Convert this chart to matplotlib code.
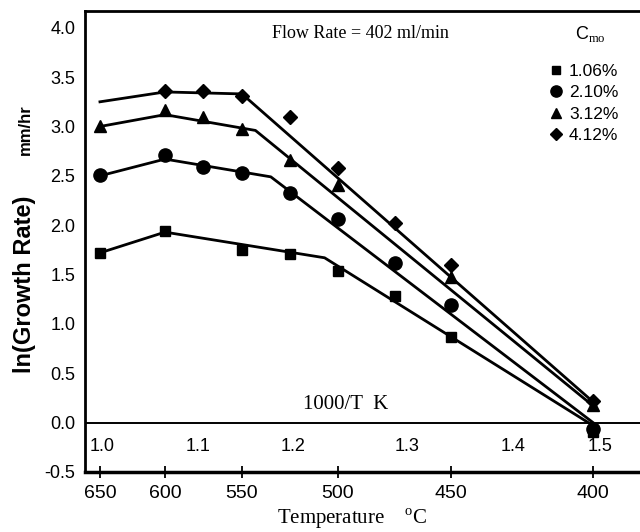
import numpy as np
import matplotlib
matplotlib.use('Agg')
import matplotlib.pyplot as plt
from matplotlib.lines import Line2D
import matplotlib.transforms as mtransforms

# ---------------- data ----------------
temps = [650, 600, 575, 550, 525, 500, 475, 450, 400]
nan = np.nan
sq_vals = [1.72, 1.94, nan, 1.75, 1.71, 1.54, 1.28, 0.87, -0.09]   # 1.06%
ci_vals = [2.51, 2.71, 2.59, 2.53, 2.33, 2.06, 1.62, 1.19, -0.06]  # 2.10%
tr_vals = [3.01, 3.17, 3.10, 2.97, 2.66, 2.41, nan, 1.48, 0.18]    # 3.12%
di_vals = [nan, 3.36, 3.36, 3.31, 3.10, 2.58, 2.02, 1.60, 0.22]    # 4.12%

fit_sq_T = [650, 600, 507, 400]
fit_sq_y = [1.72, 1.93, 1.67, -0.03]
fit_ci_T = [650, 600, 535, 400]
fit_ci_y = [2.50, 2.67, 2.49, 0.00]
fit_tr_T = [650, 600, 543, 400]
fit_tr_y = [3.00, 3.12, 2.96, 0.17]
fit_di_T = [650, 600, 550, 400]
fit_di_y = [3.25, 3.35, 3.33, 0.21]

series_labels = ['1.06%', '2.10%', '3.12%', '4.12%']
tick_temps = [650, 600, 550, 500, 450, 400]
inv_T_labels = ['1.0', '1.1', '1.2', '1.3', '1.4', '1.5']
y_ticks = [-0.5, 0.0, 0.5, 1.0, 1.5, 2.0, 2.5, 3.0, 3.5, 4.0]

# ------- temperature axis as drawn in the original (non-uniform spacing) -------
cal_T = np.array([700, 650, 600, 550, 500, 450, 400, 350], float)
cal_P = np.array([35, 100, 165, 242, 338, 451, 593, 735], float)

def tpos(t):
    t = np.asarray(t, float)
    return np.interp(-t, -cal_T, cal_P)

SANS = ['Liberation Sans Narrow', 'Liberation Sans', 'DejaVu Sans']
SANS_R = ['Liberation Sans', 'DejaVu Sans']
SERIF = ['Liberation Serif', 'DejaVu Serif']

plt.rcParams['mathtext.fontset'] = 'custom'
plt.rcParams['mathtext.rm'] = 'Liberation Serif'

fig = plt.figure(figsize=(6.4, 5.32), dpi=100)
ax = fig.add_axes([85/640, 1 - 472/532, 555/640, 461/532])

lw = 2.0
for T, y in [(fit_sq_T, fit_sq_y), (fit_ci_T, fit_ci_y),
             (fit_tr_T, fit_tr_y), (fit_di_T, fit_di_y)]:
    ax.plot(tpos(T), y, color='black', lw=lw, zorder=2)

mk = [('s', 7.5), ('o', 9.5), ('^', 8.5), ('D', 7.5)]
for vals, (m, ms) in zip([sq_vals, ci_vals, tr_vals, di_vals], mk):
    ax.plot(tpos(temps), vals, ls='none', marker=m, ms=ms, color='black', zorder=3)

ax.axhline(0, color='black', lw=1.4, zorder=1)

ax.set_xlim(tpos(661.5), tpos(383.5))
ax.set_ylim(-0.5, 4.17)
ax.set_xticks(tpos(tick_temps))
ax.set_xticklabels([str(t) for t in tick_temps], family=SANS, fontsize=14)
ax.set_yticks(y_ticks)
ax.set_yticklabels(['%.1f' % v for v in y_ticks], family=SANS_R, fontsize=13)
ax.tick_params(axis='x', direction='inout', length=8, width=1.3, pad=5)
ax.tick_params(axis='y', length=0, pad=7)

for s in ['left', 'top']:
    ax.spines[s].set_linewidth(2)
ax.spines['bottom'].set_linewidth(2.5)
ax.spines['right'].set_visible(False)

# inner 1000/T scale labels
blend = mtransforms.blended_transform_factory(ax.transAxes, ax.transData)
inv_pos = [0.031, 0.204, 0.375, 0.580, 0.771, 0.928]
for lab, xp in zip(inv_T_labels, inv_pos):
    ax.text(xp, -0.24, lab, transform=blend, ha='center', va='center',
            family=SANS_R, fontsize=13)
ax.text(0.47, 0.18, '1000/T  K', transform=blend, ha='center', va='center',
        family=SERIF, fontsize=15)

# title text
fig.text(360/640, 1 - 33/532, 'Flow Rate = 402 ml/min', ha='center', va='center',
         family=SERIF, fontsize=13)
fig.text(590/640, 1 - 34/532, r'C$_{\mathrm{mo}}$', ha='center', va='center',
         family=SANS_R, fontsize=13)

# legend
handles = [Line2D([], [], ls='none', marker=m, ms=ms * 0.85, color='black') for m, ms in mk]
ax.legend(handles, series_labels, loc='upper left',
          bbox_to_anchor=(549/640, 1 - 64/532), bbox_transform=fig.transFigure,
          frameon=False, borderpad=0, borderaxespad=0, handlelength=0.8,
          handletextpad=0.35, labelspacing=0.35,
          prop={'family': SANS_R, 'size': 12.5})

# axis labels
fig.text(25/640, 1 - 284/532, 'ln(Growth Rate)', rotation=90, ha='center', va='center',
         family=SANS, fontsize=17, fontweight='bold')
fig.text(25/640, 1 - 130/532, 'mm/hr', rotation=90, ha='center', va='center',
         family=SANS, fontsize=12, fontweight='bold')
fig.text(352/640, 1 - 519/532, r'Temperature    $^{\mathrm{o}}$C', ha='center', va='center',
         family=SERIF, fontsize=15)

fig.savefig('out.png', dpi=100)
